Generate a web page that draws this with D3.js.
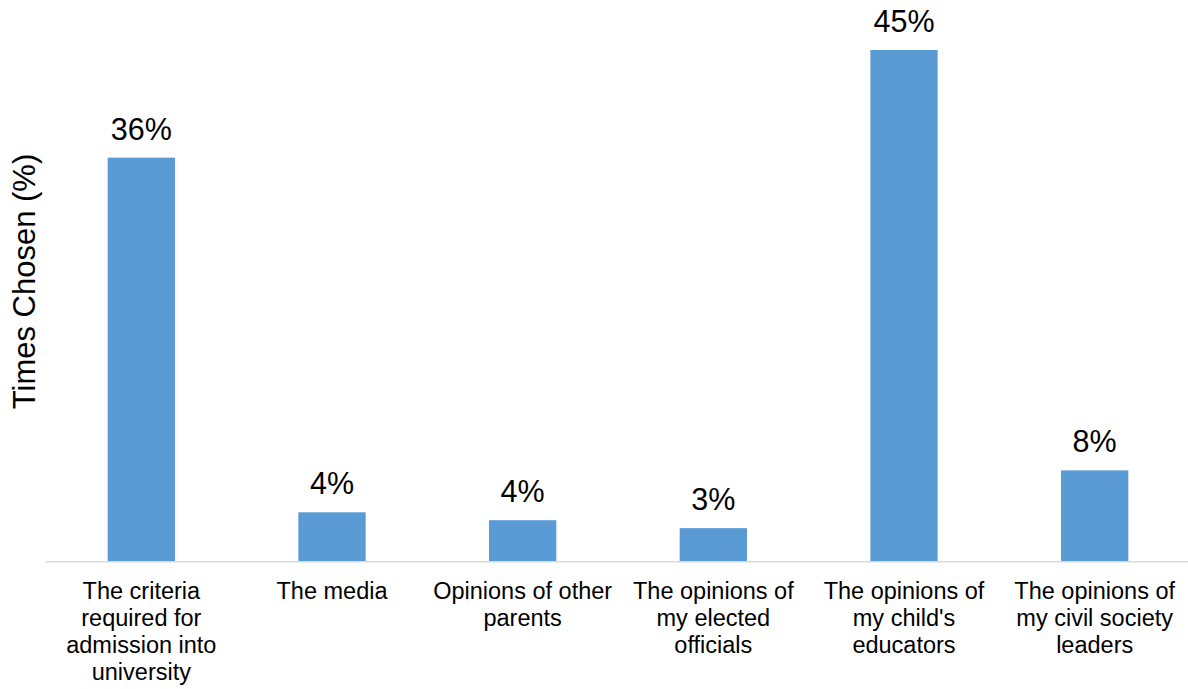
<!DOCTYPE html>
<html>
<head>
<meta charset="utf-8">
<script src="https://cdn.jsdelivr.net/npm/d3@7"></script>
<style>
  html, body { margin: 0; padding: 0; background: #fff; }
  svg { display: block; font-family: "Liberation Sans", Arial, sans-serif; }
</style>
</head>
<body>
<svg id="chart" width="1188" height="689"></svg>
<script>
// Survey responses: share of times each source was chosen (%)
const categories = [
  "The criteria required for admission into university",
  "The media",
  "Opinions of other parents",
  "The opinions of my elected officials",
  "The opinions of my child's educators",
  "The opinions of my civil society leaders"
];
const values = [35.6, 4.3, 3.6, 2.9, 45.1, 8.0];
const axisTitle = "Times Chosen (%)";

const svg = d3.select("#chart");
const W = 1188, H = 689;
const plot = { left: 46, right: 1190, top: 50, bottom: 561 };

const x = d3.scaleBand()
  .domain(categories)
  .range([plot.left, plot.right])
  .paddingInner(0.647)
  .paddingOuter(0.3235);

const y = d3.scaleLinear()
  .domain([0, d3.max(values)])
  .range([plot.bottom, plot.top]);

const data = categories.map((c, i) => ({ c, v: values[i] }));

// Bars
svg.append("g").selectAll("rect")
  .data(data)
  .join("rect")
  .attr("x", d => x(d.c))
  .attr("y", d => y(d.v))
  .attr("width", x.bandwidth())
  .attr("height", d => y(0) - y(d.v))
  .attr("fill", "#5b9bd5");

// Category axis line
svg.append("line")
  .attr("x1", plot.left).attr("x2", W)
  .attr("y1", plot.bottom + 0.75).attr("y2", plot.bottom + 0.75)
  .attr("stroke", "#d9d9d9")
  .attr("stroke-width", 1.5);

// Value labels
const fmt = v => Math.round(v) + "%";
svg.append("g").selectAll("text")
  .data(data)
  .join("text")
  .attr("x", d => x(d.c) + x.bandwidth() / 2)
  .attr("y", d => y(d.v) - 18)
  .attr("text-anchor", "middle")
  .attr("font-size", 30.5)
  .attr("fill", "#000")
  .text(d => fmt(d.v));

// Category labels, wrapped to the band step
const xAxis = d3.axisBottom(x).tickSize(0).tickPadding(0);
const gx = svg.append("g")
  .attr("transform", `translate(0,${plot.bottom})`)
  .call(xAxis);
gx.select(".domain").remove();
gx.selectAll(".tick text")
  .attr("font-size", 23.5)
  .attr("font-family", "'Liberation Sans', Arial, sans-serif")
  .attr("fill", "#000")
  .attr("y", 0)
  .attr("dy", null)
  .each(function(label) {
    const t = d3.select(this);
    const words = label.split(" ");
    t.text(null);
    const maxW = x.step() - 2;
    let line = [];
    let lineNo = 0;
    let tspan = t.append("tspan").attr("x", 0).attr("y", 38);
    for (const w of words) {
      line.push(w);
      tspan.text(line.join(" "));
      if (tspan.node().getComputedTextLength() > maxW && line.length > 1) {
        line.pop();
        tspan.text(line.join(" "));
        line = [w];
        lineNo++;
        tspan = t.append("tspan").attr("x", 0).attr("y", 38 + lineNo * 27).text(w);
      }
    }
  });

// Value axis title
svg.append("text")
  .attr("transform", `translate(35, ${281.5}) rotate(-90)`)
  .attr("text-anchor", "middle")
  .attr("font-size", 31)
  .attr("fill", "#000")
  .text(axisTitle);
</script>
</body>
</html>
